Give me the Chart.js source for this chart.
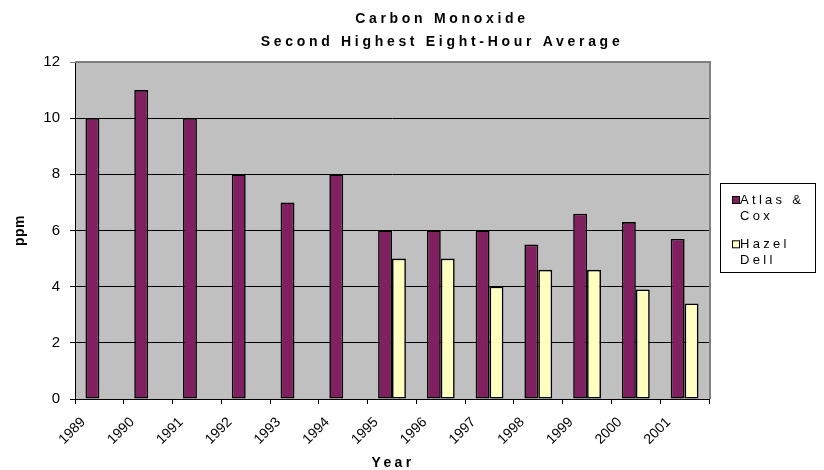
<!DOCTYPE html>
<html><head><meta charset="utf-8">
<script src="https://cdn.jsdelivr.net/npm/chart.js@4/dist/chart.umd.min.js"></script>
<style>html,body{margin:0;padding:0;background:#fff;}#wrap{width:824px;height:470px;position:relative}</style>
</head><body><div id="wrap"><canvas id="c" width="824" height="470"></canvas></div>
<script>
const titleLines = ['Carbon Monoxide', 'Second Highest Eight-Hour Average'];
const xAxisTitle = 'Year';
const yAxisTitle = 'ppm';
const years = ['1989','1990','1991','1992','1993','1994','1995','1996','1997','1998','1999','2000','2001'];
const seriesNames = ['Atlas & Cox', 'Hazel Dell'];
const atlasCox = [10, 11, 10, 8, 7, 8, 6, 6, 6, 5.5, 6.6, 6.3, 5.7];
const hazelDell = [null, null, null, null, null, null, 5, 5, 4, 4.6, 4.6, 3.9, 3.4];
const yMin = 0, yMax = 12, yStep = 2;

const FONT = '"Liberation Sans", Arial, sans-serif';
const colors = ['#802060', '#FFFFC0'];

const decor = {
  id: 'decor',
  beforeDraw(chart) {
    const {ctx, chartArea: a} = chart;
    ctx.save();
    ctx.fillStyle = '#C0C0C0';
    ctx.fillRect(a.left, a.top, a.right - a.left, a.bottom - a.top);
    ctx.restore();
  },
  afterDraw(chart) {
    const {ctx, chartArea: a} = chart;
    ctx.save();
    // plot border top/right
    ctx.strokeStyle = '#808080';
    ctx.lineWidth = 2;
    ctx.beginPath();
    ctx.moveTo(a.left, a.top);
    ctx.lineTo(a.right + 1, a.top);
    ctx.lineTo(a.right + 1, a.bottom);
    ctx.stroke();

    // title
    ctx.fillStyle = '#000';
    ctx.textAlign = 'center';
    ctx.textBaseline = 'alphabetic';
    ctx.font = 'bold 14px ' + FONT;
    ctx.letterSpacing = '3.7px';
    ctx.fillText(titleLines[0], 442, 22.5);
    ctx.fillText(titleLines[1], 442, 45.5);

    // x title
    ctx.letterSpacing = '3.3px';
    ctx.fillText(xAxisTitle, (a.left + a.right) / 2 + 1, 467);

    // y title
    ctx.letterSpacing = '0.5px';
    ctx.save();
    ctx.translate(23.5, (a.top + a.bottom) / 2);
    ctx.rotate(-Math.PI / 2);
    ctx.fillText(yAxisTitle, 0, 0);
    ctx.restore();

    // legend
    ctx.letterSpacing = '0px';
    ctx.fillStyle = '#fff';
    ctx.fillRect(720.5, 183.5, 95, 89);
    ctx.strokeStyle = '#000';
    ctx.lineWidth = 1;
    ctx.strokeRect(720.5, 183.5, 95, 89);
    ctx.font = '13px ' + FONT;
    ctx.textAlign = 'left';
    chart.data.datasets.forEach((ds, i) => {
      const base = 203.5 + i * 44.3;
      ctx.fillStyle = ds.backgroundColor;
      ctx.fillRect(732.5, base - 7, 7, 7);
      ctx.strokeRect(732.5, base - 7, 7, 7);
      const name = ds.label;
      const k = name.lastIndexOf(' ');
      const lines = [name.slice(0, k), name.slice(k + 1)];
      ctx.fillStyle = '#000';
      ctx.letterSpacing = '3.3px';
      lines.forEach((t, j) => ctx.fillText(t, 740, base + j * 16));
      ctx.letterSpacing = '0px';
    });
    ctx.restore();
  }
};

new Chart(document.getElementById('c'), {
  type: 'bar',
  data: {
    labels: years,
    datasets: [
      {label: seriesNames[0], data: atlasCox, backgroundColor: colors[0], borderColor: '#000', borderWidth: 1.6, borderSkipped: false},
      {label: seriesNames[1], data: hazelDell, backgroundColor: colors[1], borderColor: '#000', borderWidth: 1.6, borderSkipped: false}
    ]
  },
  options: {
    responsive: false,
    animation: false,
    devicePixelRatio: 1,
    layout: {padding: {top: 62, right: 115, bottom: 0, left: 0}},
    datasets: {bar: {categoryPercentage: 0.57, barPercentage: 1.0}},
    plugins: {legend: {display: false}, title: {display: false}, tooltip: {enabled: false}},
    scales: {
      x: {
        type: 'category',
        offset: true,
        grid: {display: true, drawOnChartArea: false, offset: true, tickLength: 5, color: '#000'},
        border: {display: true, color: '#000', width: 1},
        ticks: {color: '#000', font: {family: FONT, size: 14}, minRotation: 45, maxRotation: 45, autoSkip: false, labelOffset: -16, padding: 10},
        afterFit(scale) { scale.height = 71; }
      },
      y: {
        min: yMin, max: yMax,
        grid: {color: c => (c.tick && c.tick.value === yMax) ? '#808080' : '#000', tickLength: 5, lineWidth: 1},
        border: {display: true, color: '#000', width: 1},
        ticks: {stepSize: yStep, color: '#000', font: {family: FONT, size: 15}, padding: 10},
        afterFit(scale) { scale.width = 75; }
      }
    }
  },
  plugins: [decor]
});
</script>
</body></html>
